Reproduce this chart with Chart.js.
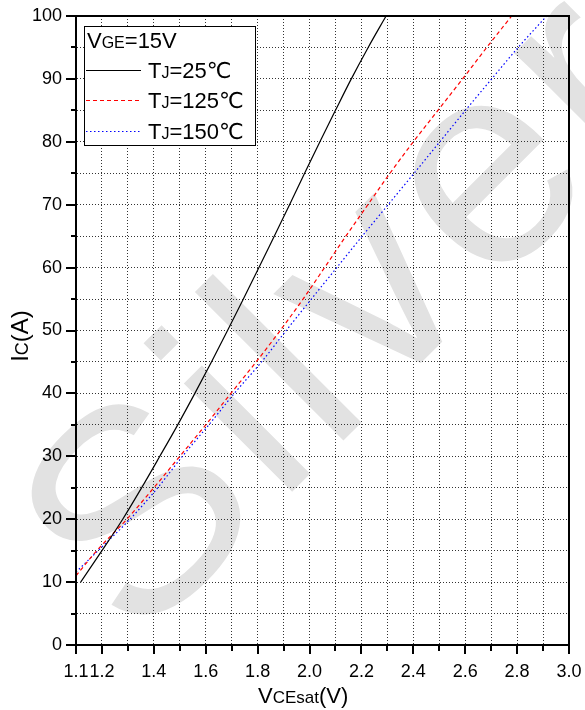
<!DOCTYPE html>
<html>
<head>
<meta charset="utf-8">
<script src="https://cdn.jsdelivr.net/npm/chart.js@4.4.1/dist/chart.umd.min.js"></script>
<style>
  html, body { margin: 0; padding: 0; background: #fff; }
  #wrap { width: 585px; height: 710px; }
</style>
</head>
<body>
<div id="wrap"><canvas id="ic_vce_chart" width="585" height="710"></canvas></div>
<script>
// Output characteristic IC vs VCEsat, VGE = 15V
const ic25 = [10, 15, 20, 25, 30, 35, 40, 45, 50, 55, 60, 65, 70, 75, 80, 85, 90, 95, 100];
const vce25 = [1.118, 1.200, 1.280, 1.353, 1.423, 1.492, 1.558, 1.622, 1.684, 1.745, 1.805, 1.864, 1.923, 1.981, 2.040, 2.100, 2.161, 2.226, 2.295];

const ic125 = [11, 15, 20, 25, 30, 35, 40, 45, 50, 55, 60, 65, 70, 75, 80, 85, 90, 95, 100];
const vce125 = [1.100, 1.180, 1.296, 1.400, 1.500, 1.600, 1.697, 1.794, 1.887, 1.975, 2.058, 2.140, 2.225, 2.310, 2.400, 2.495, 2.590, 2.683, 2.779];

const ic150 = [11.6, 15, 20, 25, 30, 35, 40, 45, 50, 55, 60, 65, 70, 75, 80, 85, 90, 95, 100];
const vce150 = [1.100, 1.185, 1.308, 1.415, 1.510, 1.612, 1.710, 1.815, 1.910, 2.007, 2.105, 2.203, 2.303, 2.403, 2.502, 2.601, 2.702, 2.804, 2.914];

const seriesLabels = ["TJ=25℃", "TJ=125℃", "TJ=150℃"];

const xTicks = [1.1, 1.2, 1.3, 1.4, 1.5, 1.6, 1.7, 1.8, 1.9, 2.0, 2.1, 2.2, 2.3, 2.4, 2.5, 2.6, 2.7, 2.8, 2.9, 3.0];
const xTickLabels = ["1.1", "1.2", "", "1.4", "", "1.6", "", "1.8", "", "2.0", "", "2.2", "", "2.4", "", "2.6", "", "2.8", "", "3.0"];
const yTicks = [0, 5, 10, 15, 20, 25, 30, 35, 40, 45, 50, 55, 60, 65, 70, 75, 80, 85, 90, 95, 100];
const yTickLabels = ["0", "", "10", "", "20", "", "30", "", "40", "", "50", "", "60", "", "70", "", "80", "", "90", "", "100"];

const FONT = "'Liberation Sans', Arial, 'DejaVu Sans', sans-serif";

const toPoints = (xs, ys) => xs.map((x, i) => ({ x: x, y: ys[i] }));

// text with smaller "subscript" runs sharing one baseline
function drawRich(ctx, parts, x, y) {
  let cx = x;
  parts.forEach(([text, size]) => {
    ctx.font = `${size}px ${FONT}`;
    ctx.fillText(text, cx, y);
    cx += ctx.measureText(text).width;
  });
  return cx;
}

function richWidth(ctx, parts) {
  let w = 0;
  parts.forEach(([text, size]) => {
    ctx.font = `${size}px ${FONT}`;
    w += ctx.measureText(text).width;
  });
  return w;
}

const watermark = {
  id: "watermark",
  beforeDraw(chart) {
    const ctx = chart.ctx;
    ctx.save();
    ctx.translate(136, 648);
    ctx.rotate(-45 * Math.PI / 180);
    ctx.font = `290px ${FONT}`;
    ctx.letterSpacing = "8px";
    ctx.fillStyle = "#e2e2e2";
    ctx.textBaseline = "alphabetic";
    ctx.fillText("Silver", 0, 0);
    ctx.restore();
  },
};

const frameAndTicks = {
  id: "frameAndTicks",
  afterDraw(chart) {
    const { ctx, chartArea: a, scales: { x, y } } = chart;
    ctx.save();
    ctx.strokeStyle = "#000";
    ctx.lineWidth = 2;
    ctx.beginPath();
    xTicks.forEach((v, i) => {
      const px = Math.round(x.getPixelForValue(v));
      const len = xTickLabels[i] ? 9 : 6;
      ctx.moveTo(px, a.bottom);
      ctx.lineTo(px, a.bottom + len);
    });
    yTicks.forEach((v, i) => {
      const py = Math.round(y.getPixelForValue(v));
      const len = yTickLabels[i] ? 10 : 5;
      ctx.moveTo(a.left, py);
      ctx.lineTo(a.left - len, py);
    });
    ctx.stroke();
    ctx.strokeRect(a.left, a.top, a.right - a.left, a.bottom - a.top);

    // axis titles
    ctx.fillStyle = "#000";
    ctx.textBaseline = "alphabetic";
    const xTitle = [["V", 22], ["CEsat", 17], ["(V)", 22]];
    drawRich(ctx, xTitle, 258, 703);

    const yTitle = [["I", 24], ["C", 18], ["(A)", 24]];
    const yw = richWidth(ctx, yTitle);
    ctx.translate(28, 336);
    ctx.rotate(-Math.PI / 2);
    drawRich(ctx, yTitle, -yw / 2, 0);
    ctx.restore();
  },
};

const boxLegend = {
  id: "boxLegend",
  afterDraw(chart) {
    const ctx = chart.ctx;
    ctx.save();
    ctx.fillStyle = "#fff";
    ctx.fillRect(84, 26, 171, 119);
    ctx.strokeStyle = "#000";
    ctx.lineWidth = 1;
    ctx.strokeRect(84.5, 26.5, 171, 119);

    ctx.fillStyle = "#000";
    ctx.textBaseline = "alphabetic";
    drawRich(ctx, [["V", 22], ["GE", 16], ["=15V", 22]], 87, 48);

    const rows = [70, 100, 131];
    chart.data.datasets.forEach((ds, i) => {
      const ly = rows[i] + 0.5;
      ctx.strokeStyle = ds.borderColor;
      ctx.lineWidth = 1;
      ctx.setLineDash(ds.borderDash || []);
      ctx.beginPath();
      ctx.moveTo(86, ly);
      ctx.lineTo(141, ly);
      ctx.stroke();
      ctx.setLineDash([]);
      ctx.fillStyle = "#000";
      const label = ds.label;
      drawRich(ctx, [["T", 22], ["J", 16], [label.slice(2), 22]], 148, rows[i] + 8);
    });
    ctx.restore();
  },
};

const gridColor = (ctx, edges) =>
  ctx.tick && edges.includes(ctx.tick.value) ? "rgba(0,0,0,0)" : "#333";

const chart = new Chart(document.getElementById("ic_vce_chart"), {
  type: "line",
  data: {
    datasets: [
      {
        label: seriesLabels[0],
        data: toPoints(vce25, ic25),
        borderColor: "#000000",
        borderWidth: 1.2,
        borderDash: [],
      },
      {
        label: seriesLabels[1],
        data: toPoints(vce125, ic125),
        borderColor: "#ff0000",
        borderWidth: 1.2,
        borderDash: [4, 3],
      },
      {
        label: seriesLabels[2],
        data: toPoints(vce150, ic150),
        borderColor: "#0000ff",
        borderWidth: 1.2,
        borderDash: [1.5, 2.5],
      },
    ].map((ds) => ({ ...ds, pointRadius: 0, fill: false, cubicInterpolationMode: "monotone" })),
  },
  options: {
    responsive: false,
    animation: false,
    devicePixelRatio: 1,
    layout: { padding: { top: 16, right: 16, left: 0, bottom: 0 } },
    plugins: {
      legend: { display: false },
      tooltip: { enabled: false },
    },
    scales: {
      x: {
        type: "linear",
        min: 1.1,
        max: 3.0,
        afterBuildTicks: (scale) => {
          scale.ticks = xTicks.map((v) => ({ value: v }));
        },
        afterFit: (scale) => {
          scale.height = 65;
          // labels may overhang the plot edges; keep the plot box fixed
          scale.paddingLeft = 0;
          scale.paddingRight = 0;
        },
        ticks: {
          autoSkip: false,
          maxRotation: 0,
          padding: 16,
          color: "#000",
          font: { family: FONT, size: 18 },
          callback: (value, index) => xTickLabels[index],
        },
        grid: {
          drawTicks: false,
          lineWidth: 1,
          color: (ctx) => gridColor(ctx, [1.1, 3.0]),
        },
        border: { display: true, color: "#000", width: 2, dash: [1, 2] },
      },
      y: {
        min: 0,
        max: 100,
        afterBuildTicks: (scale) => {
          scale.ticks = yTicks.map((v) => ({ value: v }));
        },
        afterFit: (scale) => {
          scale.width = 76;
          scale.paddingTop = 0;
          scale.paddingBottom = 0;
        },
        ticks: {
          autoSkip: false,
          padding: 14,
          color: "#000",
          font: { family: FONT, size: 18 },
          callback: (value, index) => yTickLabels[index],
        },
        grid: {
          drawTicks: false,
          lineWidth: 1,
          color: (ctx) => gridColor(ctx, [0, 100]),
        },
        border: { display: true, color: "#000", width: 2, dash: [1, 2] },
      },
    },
  },
  plugins: [watermark, frameAndTicks, boxLegend],
});
</script>
</body>
</html>
